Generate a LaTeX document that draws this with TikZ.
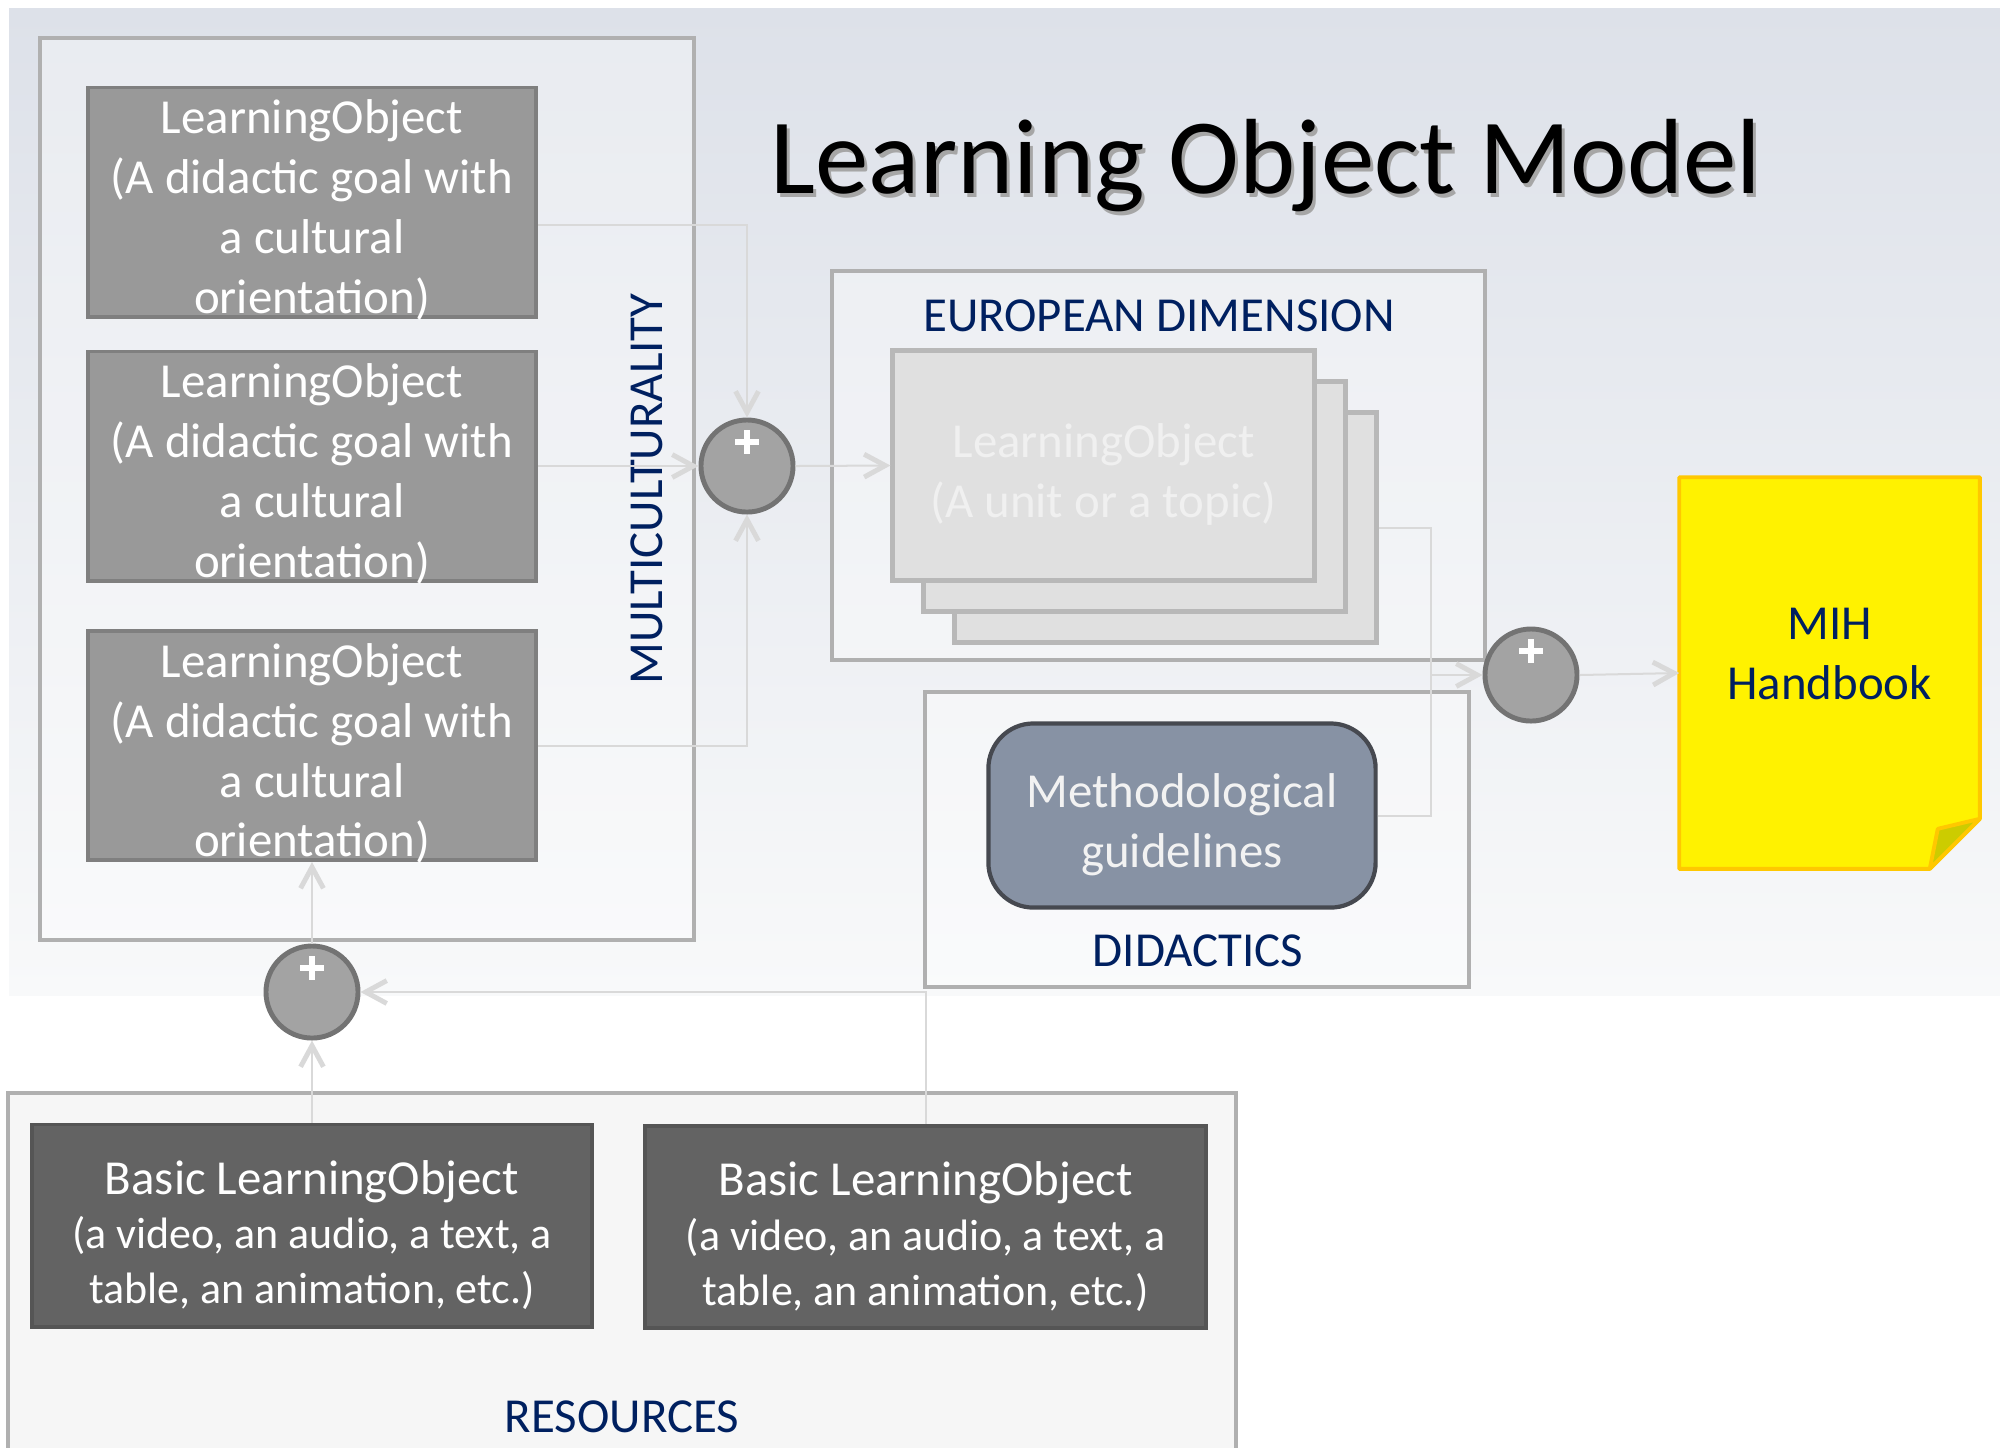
\documentclass[tikz,border=0pt]{standalone}
\usepackage{fontspec}
\setmainfont{Carlito}
\usetikzlibrary{calc,positioning,arrows.meta}
\definecolor{navy}{RGB}{0,32,96}
\definecolor{bgtop}{RGB}{221,225,233}
\definecolor{bgbottom}{RGB}{248,249,250}
\definecolor{areaedge}{RGB}{176,176,176}
\definecolor{resfill}{RGB}{246,246,246}
\definecolor{linegray}{RGB}{217,217,217}
\definecolor{gobjfill}{RGB}{153,153,153}
\definecolor{gobjedge}{RGB}{127,127,127}
\definecolor{sumfill}{RGB}{163,163,163}
\definecolor{sumedge}{RGB}{115,115,115}
\definecolor{unitfill}{RGB}{224,224,224}
\definecolor{unitedge}{RGB}{184,184,184}
\definecolor{unittext}{RGB}{240,240,240}
\definecolor{guidefill}{RGB}{135,146,164}
\definecolor{guideedge}{RGB}{70,73,80}
\definecolor{basicfill}{RGB}{99,99,99}
\definecolor{basicedge}{RGB}{85,85,85}
\definecolor{noteedge}{RGB}{255,200,0}
\definecolor{notefold}{RGB}{204,204,0}
\newcommand{\boxfont}{\fontsize{13.9}{17}\selectfont}
\newcommand{\smallboxfont}{\fontsize{12.5}{15.4}\selectfont}
\newcommand{\titlefont}{\fontsize{30.4}{36}\selectfont}
\tikzset{>={Straight Barb[length=6pt,width=6.5pt,line width=1.4pt]}}
\tikzset{
  areabox/.style  = {draw=areaedge, line width=1.1pt, fill=white, fill opacity=0.35},
  gobjbox/.style  = {draw=gobjedge, line width=1.1pt, fill=gobjfill, text=white, align=center,
                     minimum width=4.48cm, minimum height=2.29cm, inner ysep=0pt,
                     text height=63.3pt, text depth=0pt, font=\boxfont},
  unitbox/.style  = {draw=unitedge, line width=1.4pt, fill=unitfill, text=unittext, align=center,
                     minimum width=4.21cm, minimum height=2.3cm, text height=29.5pt, text depth=0pt, font=\boxfont},
  guidebox/.style = {draw=guideedge, line width=1.2pt, fill=guidefill, text=white!95!black, align=center,
                     rounded corners=0.45cm, minimum width=3.87cm, minimum height=1.84cm,
                     text height=29.5pt, text depth=0pt, font=\boxfont},
  basicbox/.style = {draw=basicedge, line width=1.1pt, fill=basicfill, text=white, align=center,
                     minimum width=5.6cm, minimum height=2.02cm, text height=44.5pt, text depth=0pt, font=\boxfont},
  notebox/.style  = {minimum width=2.99cm, minimum height=3.9cm},
  sumnode/.style  = {circle, draw=sumedge, line width=1.4pt, fill=sumfill, minimum size=0.92cm, inner sep=0pt,
                     path picture={\draw[white, line width=1.5pt]
                       ($(path picture bounding box.center)+(-12,-24)$) -- ++(24,0)
                       ($(path picture bounding box.center)+(0,-36)$) -- ++(0,24);}},
  caption/.style  = {text=navy, font=\boxfont},
  link/.style     = {draw=linegray, line width=0.57pt, ->}
}

\begin{document}
\begin{tikzpicture}[x=0.01cm, y=-0.01cm]
  \useasboundingbox (0,0) rectangle (2000,1447);
  \shade[top color=bgtop, bottom color=bgbottom] (9,8) rectangle (2000,995);

  \draw[areabox] (40,38) rectangle (694,940);
  \draw[areabox] (832,271) rectangle (1485,660);
  \draw[areabox] (925,692) rectangle (1469,987);
  \draw[areabox, fill=resfill, fill opacity=1] (8,1093) rectangle (1236,1470);

  \node[anchor=base, font=\titlefont, text=black!35] at (1269,197) {Learning Object Model};
  \node[anchor=base, font=\titlefont] (title) at (1266,193) {Learning Object Model};

  \node[gobjbox] (lo1) at (312,202) {LearningObject\\(A didactic goal with\\a cultural\\orientation)};
  \node[gobjbox] (lo2) at (312,466) {LearningObject\\(A didactic goal with\\a cultural\\orientation)};
  \node[gobjbox] (lo3) at (312,745.5) {LearningObject\\(A didactic goal with\\a cultural\\orientation)};
  \node[caption, rotate=90] (multilabel) at (647,489) {MULTICULTURALITY};

  \node[sumnode] (sum1) at (747,466) {};
  \node[sumnode] (sum2) at (1531,675) {};
  \node[sumnode] (sum3) at (312,992) {};

  \node[caption] (eulabel) at (1159,316) {EUROPEAN DIMENSION};
  \node[unitbox] (lou3) at (1165.5,527.5) {};
  \node[unitbox] (lou2) at (1134.5,496.5) {};
  \node[unitbox] (lou1) at (1103.5,465.5) {LearningObject\\(A unit or a topic)};

  \node[guidebox] (guide) at (1182,815.5) {Methodological\\guidelines};
  \node[caption] (didlabel) at (1198,951) {DIDACTICS};

  \node[notebox] (mih) at (1829.5,673) {};
  \draw[draw=noteedge, fill=yellow, line width=1.1pt, line join=round]
    (mih.north west) -- (mih.north east) -- ([yshift=0.5cm]mih.south east)
    -- ([xshift=-0.5cm]mih.south east) -- (mih.south west) -- cycle;
  \draw[draw=noteedge, fill=notefold, line width=1.1pt, line join=round]
    ([yshift=0.5cm]mih.south east) -- ([xshift=-0.42cm,yshift=0.4cm]mih.south east)
    -- ([xshift=-0.5cm]mih.south east) -- cycle;
  \node[caption, align=center] (mihtext) at ([yshift=0.19cm]mih.center) {MIH\\Handbook};

  \node[basicbox] (basic1) at (312,1225.5) {Basic LearningObject\\[-1.4pt]\smallboxfont (a video, an audio, a text, a\\[-1.4pt]\smallboxfont table, an animation, etc.)};
  \node[basicbox] (basic2) at (925.5,1227) {Basic LearningObject\\[-1.4pt]\smallboxfont (a video, an audio, a text, a\\[-1.4pt]\smallboxfont table, an animation, etc.)};
  \node[caption] (reslabel) at (622,1417) {RESOURCES};

  \coordinate (merge) at (1431,675);
  \draw[link] ([yshift=-0.23cm]lo1.east) -| (sum1.north);
  \draw[link] (lo2.east) -- (sum1.west);
  \draw[link] (lo3.east) -| (sum1.south);
  \draw[link] (sum1.east) -- (lou1.west);
  \draw[link, -] (lou3.east) -| (merge);
  \draw[link, -] (guide.east) -| (merge);
  \draw[link] (merge) -- (sum2.west);
  \draw[link] (sum2.east) -- (mih.west);
  \draw[link] (basic1.north) -- (sum3.south);
  \draw[link] (basic2.north) |- (sum3.east);
  \draw[link] (sum3.north) -- (lo3.south);
\end{tikzpicture}
\end{document}
